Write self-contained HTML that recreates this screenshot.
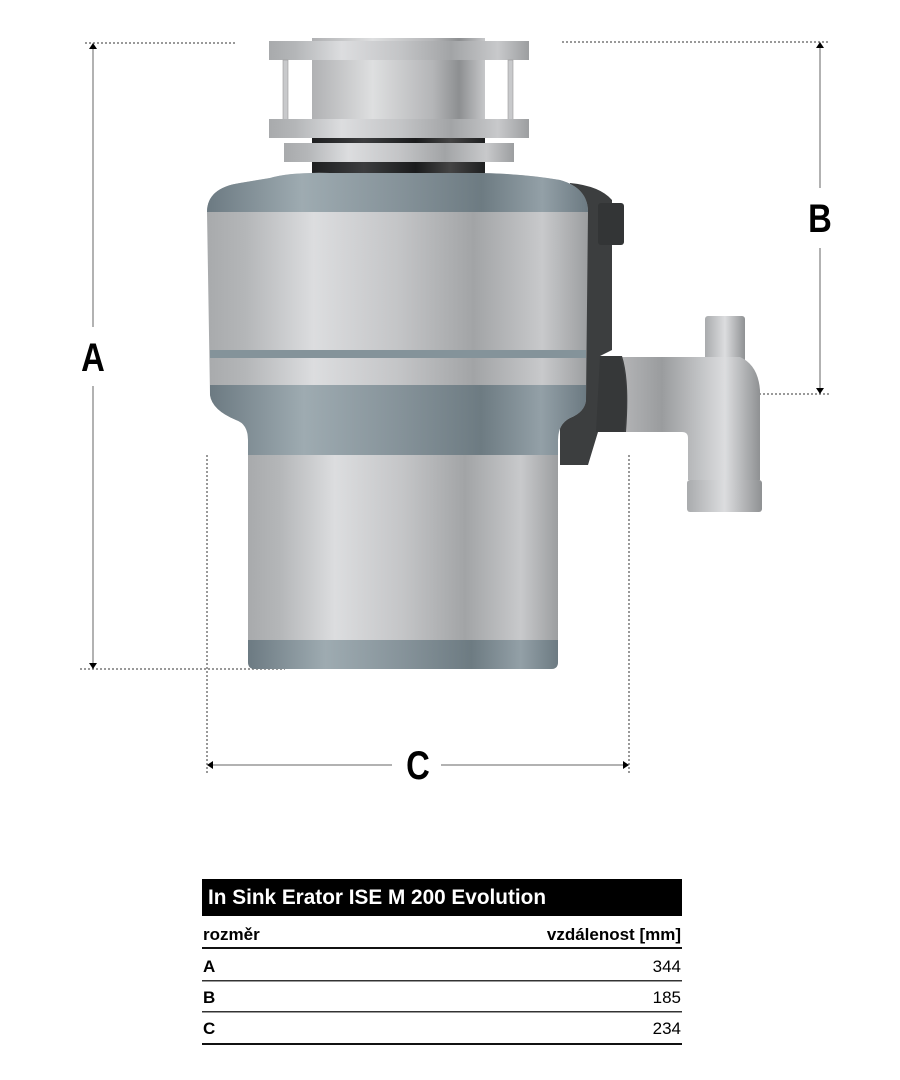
<!DOCTYPE html>
<html><head><meta charset="utf-8"><style>
html,body{margin:0;padding:0;background:#fff;width:900px;height:1080px;overflow:hidden}
svg{display:block}
.lbl{font-family:"Liberation Sans",sans-serif;font-weight:bold;font-size:40px;fill:#000}
.t{font-family:"Liberation Sans",sans-serif;font-size:17px;fill:#000}
</style></head><body>
<svg width="900" height="1080" viewBox="0 0 900 1080" xmlns="http://www.w3.org/2000/svg">
<defs>
<linearGradient id="sil" x1="0" x2="1" y1="0" y2="0">
<stop offset="0" stop-color="#a8aaac"/><stop offset="0.1" stop-color="#b4b6b8"/><stop offset="0.28" stop-color="#dcdddf"/><stop offset="0.5" stop-color="#c4c5c7"/><stop offset="0.7" stop-color="#a2a4a6"/><stop offset="0.88" stop-color="#c8c9cb"/><stop offset="1" stop-color="#9c9ea0"/>
</linearGradient>
<linearGradient id="blu" x1="0" x2="1" y1="0" y2="0">
<stop offset="0" stop-color="#6c7a82"/><stop offset="0.25" stop-color="#9eabb1"/><stop offset="0.5" stop-color="#86939a"/><stop offset="0.72" stop-color="#6d7b82"/><stop offset="0.88" stop-color="#93a0a7"/><stop offset="1" stop-color="#6c7a82"/>
</linearGradient>
<linearGradient id="cyl" x1="0" x2="1" y1="0" y2="0">
<stop offset="0" stop-color="#b0b1b3"/><stop offset="0.35" stop-color="#dedfe0"/><stop offset="0.7" stop-color="#b4b5b7"/><stop offset="0.85" stop-color="#8d8f91"/><stop offset="1" stop-color="#c6c7c9"/>
</linearGradient>
<linearGradient id="blk" x1="0" x2="1" y1="0" y2="0">
<stop offset="0" stop-color="#1e1f20"/><stop offset="0.3" stop-color="#3c3d3f"/><stop offset="0.6" stop-color="#1a1b1c"/><stop offset="0.8" stop-color="#444"/><stop offset="1" stop-color="#1e1f20"/>
</linearGradient>
<linearGradient id="pipe" x1="0" x2="1" y1="0" y2="0">
<stop offset="0" stop-color="#b4b5b7"/><stop offset="0.3" stop-color="#9a9c9e"/><stop offset="0.75" stop-color="#dcdddf"/><stop offset="1" stop-color="#8f9193"/>
</linearGradient>
<linearGradient id="pipev" x1="0" x2="1" y1="0" y2="0">
<stop offset="0" stop-color="#a9abad"/><stop offset="0.5" stop-color="#dcdddf"/><stop offset="1" stop-color="#8f9193"/>
</linearGradient>
</defs>

<g stroke="#333" stroke-width="1" stroke-dasharray="2,2" fill="none">
<line x1="85" y1="43" x2="235" y2="43"/>
<line x1="562" y1="42" x2="830" y2="42"/>
<line x1="80" y1="669" x2="285" y2="669"/>
<line x1="683" y1="394" x2="830" y2="394"/>
<line x1="207" y1="455" x2="207" y2="773"/>
<line x1="629" y1="455" x2="629" y2="773"/>
</g>
<g stroke="#999" stroke-width="1.5">
<line x1="93" y1="48" x2="93" y2="327"/><line x1="93" y1="386" x2="93" y2="664"/>
<line x1="820" y1="47" x2="820" y2="188"/><line x1="820" y1="248" x2="820" y2="389"/>
<line x1="212" y1="765" x2="392" y2="765"/><line x1="441" y1="765" x2="624" y2="765"/>
</g>
<g fill="#000">
<polygon points="93,43 89,49 97,49"/><polygon points="93,669 89,663 97,663"/>
<polygon points="820,42 816,48 824,48"/><polygon points="820,394 816,388 824,388"/>
<polygon points="207,765 213,761 213,769"/><polygon points="629,765 623,761 623,769"/>
</g>
<text class="lbl" transform="translate(93,371) scale(0.82,1)" text-anchor="middle">A</text>
<text class="lbl" transform="translate(820,232) scale(0.82,1)" text-anchor="middle">B</text>
<text class="lbl" transform="translate(418,779) scale(0.82,1)" text-anchor="middle">C</text>

<rect x="705" y="316" width="40" height="55" rx="3" fill="url(#pipev)"/>
<path d="M620 357 H740 Q758 365 760 390 V480 H688 V438 Q688 432 682 432 H620 Z" fill="url(#pipe)"/>
<rect x="687" y="480" width="75" height="32" rx="3" fill="url(#pipev)"/>

<path d="M570 183 Q600 186 612 200 L612 350 L600 356 L622 356 Q630 380 626 432 L598 432 L588 465 L560 465 L560 420 L575 408 Z" fill="#3c3e3f"/>
<rect x="598" y="203" width="26" height="42" rx="3" fill="#333536"/>
<path d="M600 356 H620 Q630 385 624 432 H596 Z" fill="#363839"/>

<rect x="312" y="38" width="173" height="84" fill="url(#cyl)"/>
<rect x="269" y="41" width="260" height="19" fill="url(#sil)"/>
<rect x="283" y="60" width="5" height="60" fill="#c8c9cb" stroke="#999" stroke-width="0.6"/>
<rect x="508" y="60" width="5" height="60" fill="#c8c9cb" stroke="#999" stroke-width="0.6"/>
<rect x="312" y="136" width="173" height="10" fill="url(#blk)"/>
<rect x="269" y="119" width="260" height="19" fill="url(#sil)"/>
<rect x="284" y="143" width="230" height="19" fill="url(#sil)"/>
<rect x="312" y="162" width="173" height="12" fill="url(#blk)"/>

<path d="M207 212 Q207 188 240 183 L270 178 Q290 172 330 173 L470 173 Q520 173 560 180 Q588 188 588 212 L586 400 Q585 412 570 418 Q558 424 558 440 L558 455 L248 455 L248 440 Q248 424 236 420 Q212 410 210 395 Z" fill="url(#sil)"/>
<path d="M207 212 Q207 188 240 183 L270 178 Q290 172 330 173 L470 173 Q520 173 560 180 Q588 188 588 212 Z" fill="url(#blu)"/>
<rect x="210" y="350" width="376" height="8" fill="#84939a"/>
<path d="M210 385 H586 L586 400 Q585 412 570 418 Q558 424 558 440 L558 455 L248 455 L248 440 Q248 424 236 420 Q212 410 210 395 Z" fill="url(#blu)"/>
<path d="M248 455 H558 V662 Q558 669 551 669 H255 Q248 669 248 662 Z" fill="url(#sil)"/>
<path d="M248 640 H558 V662 Q558 669 551 669 H255 Q248 669 248 662 Z" fill="url(#blu)"/>

<rect x="202" y="879" width="480" height="37" fill="#000"/>
<text x="208" y="904" font-family="Liberation Sans, sans-serif" font-weight="bold" font-size="21" fill="#fff" textLength="338" lengthAdjust="spacingAndGlyphs">In Sink Erator ISE M 200 Evolution</text>
<text class="t" x="203" y="940" font-weight="bold">rozměr</text>
<text class="t" x="681" y="940" font-weight="bold" text-anchor="end">vzdálenost [mm]</text>
<rect x="202" y="947" width="480" height="2" fill="#111"/>
<text class="t" x="203" y="972" font-weight="bold">A</text><text class="t" x="681" y="972" text-anchor="end">344</text>
<rect x="202" y="980" width="480" height="1.5" fill="#333"/>
<text class="t" x="203" y="1003" font-weight="bold">B</text><text class="t" x="681" y="1003" text-anchor="end">185</text>
<rect x="202" y="1011" width="480" height="1.5" fill="#333"/>
<text class="t" x="203" y="1034" font-weight="bold">C</text><text class="t" x="681" y="1034" text-anchor="end">234</text>
<rect x="202" y="1043" width="480" height="2" fill="#111"/>
</svg>
</body></html>
